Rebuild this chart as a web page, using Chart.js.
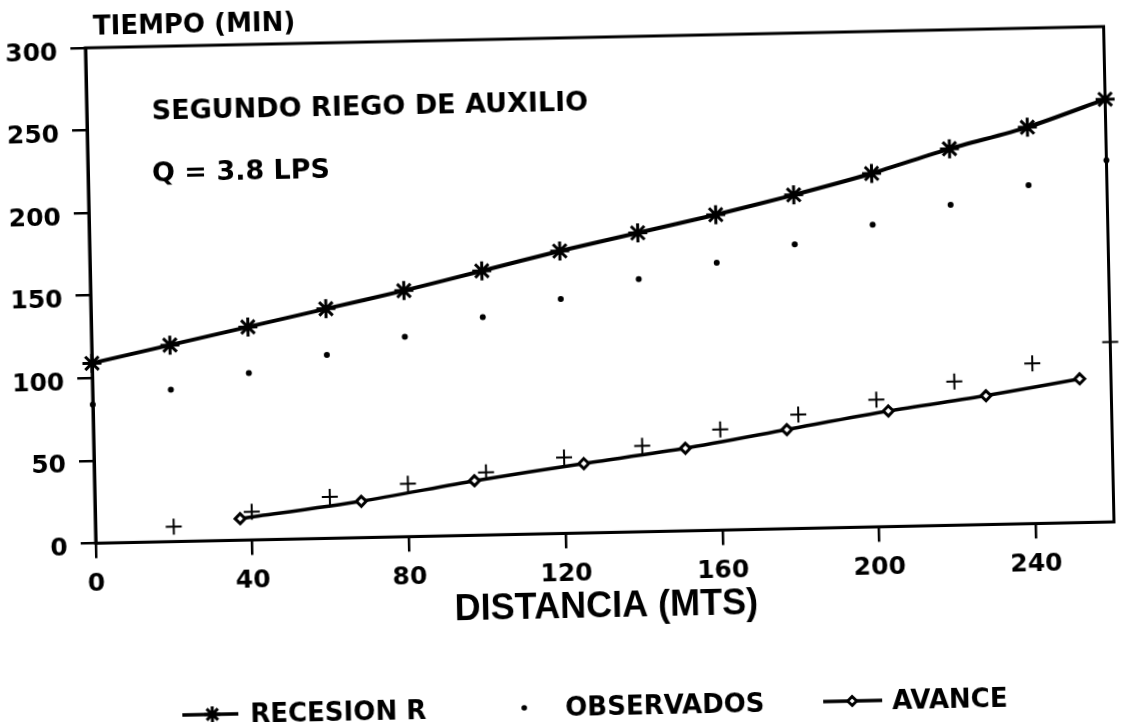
<!DOCTYPE html>
<html>
<head>
<meta charset="utf-8">
<script src="https://cdn.jsdelivr.net/npm/chart.js@4.4.1/dist/chart.umd.min.js"></script>
<style>
  html, body { margin: 0; padding: 0; background: #fff; overflow: hidden; }
  /* la hoja original esta escaneada algo torcida */
  #wrap { width: 1123px; height: 722px; transform: rotate(-1.2deg); transform-origin: 50% 50%; }
</style>
</head>
<body>
<div id="wrap"><canvas id="grafica" width="1123" height="722"></canvas></div>
<script>
// datos
const recesionX = [0, 20, 40, 60, 80, 100, 120, 140, 160, 180, 200, 220, 240, 260];
const recesionY = [109, 119, 129, 139, 149, 160, 171, 181, 191, 202, 214, 228, 240, 256];

const observadosX = [0, 20, 40, 60, 80, 100, 120, 140, 160, 180, 200, 220, 240, 260];
const observadosY = [84, 92, 101, 111, 121, 132, 142, 153, 162, 172, 183, 194, 205, 219];

const avanceObsX = [20, 40, 60, 80, 100, 120, 140, 160, 180, 200, 220, 240, 260];
const avanceObsY = [9, 17, 25, 32, 38, 46, 52, 61, 69, 77, 87, 97, 109];

const avanceX = [37, 68, 97, 125, 151, 177, 203, 228, 252];
const avanceY = [13, 22, 33, 42, 50, 60, 70, 78, 87];

const ticksX = [0, 40, 80, 120, 160, 200, 240];

const puntos = (xs, ys) => xs.map((x, i) => ({ x: x, y: ys[i] }));

const negro = '#000';
const fuente = 'DejaVu Sans';

// marco completo, textos y leyenda
const extras = {
  id: 'extras',
  beforeDatasetsDraw(chart) {
    const { ctx, chartArea: a } = chart;
    ctx.save();
    ctx.strokeStyle = negro;
    ctx.lineWidth = 3;
    ctx.strokeRect(a.left, a.top, a.right - a.left, a.bottom - a.top);
    ctx.restore();
  },
  afterDraw(chart) {
    const ctx = chart.ctx;
    ctx.save();
    ctx.fillStyle = negro;
    ctx.textBaseline = 'alphabetic';
    ctx.textAlign = 'left';
    ctx.font = 'bold 26px "' + fuente + '"';
    ctx.fillText('TIEMPO (MIN)', 100, 25);
    ctx.font = 'bold 27px "' + fuente + '"';
    ctx.fillText('SEGUNDO RIEGO DE AUXILIO', 157, 111);
    ctx.fillText('Q = 3.8 LPS', 156, 173);

    // leyenda
    const ly = 707;
    const items = [
      { ds: 0, x0: 175, x1: 231, px: 205, tx: 243, linea: true, r: 8 },
      { ds: 1, x0: 0, x1: 0, px: 517, tx: 558, linea: false, r: 2.8 },
      { ds: 3, x0: 816, x1: 875, px: 845, tx: 885, linea: true, r: 4.5 }
    ];
    ctx.font = 'bold 26px "' + fuente + '"';
    ctx.textBaseline = 'middle';
    items.forEach(it => {
      const ds = chart.data.datasets[it.ds];
      ctx.strokeStyle = negro;
      if (it.linea) {
        ctx.lineWidth = 3.5;
        ctx.beginPath();
        ctx.moveTo(it.x0, ly);
        ctx.lineTo(it.x1, ly);
        ctx.stroke();
      }
      ctx.fillStyle = ds.pointBackgroundColor;
      ctx.lineWidth = ds.pointBorderWidth;
      Chart.helpers.drawPoint(ctx, {
        pointStyle: ds.pointStyle, radius: it.r, rotation: 0, borderWidth: ds.pointBorderWidth
      }, it.px, ly);
      ctx.fillStyle = negro;
      ctx.fillText(ds.label, it.tx, ly + 2);
    });
    ctx.restore();
  }
};

new Chart(document.getElementById('grafica'), {
  type: 'scatter',
  data: {
    datasets: [
      {
        label: 'RECESION R',
        data: puntos(recesionX, recesionY),
        showLine: true,
        borderColor: negro,
        borderWidth: 4,
        tension: 0.25,
        pointStyle: 'star',
        pointRadius: 9.5,
        pointBorderWidth: 3,
        pointBorderColor: negro,
        pointBackgroundColor: negro,
        clip: false
      },
      {
        label: 'OBSERVADOS',
        data: puntos(observadosX, observadosY),
        showLine: false,
        pointStyle: 'circle',
        pointRadius: 3,
        pointBorderWidth: 0,
        pointBackgroundColor: negro,
        pointBorderColor: negro,
        clip: false
      },
      {
        label: 'AVANCE OBSERVADO',
        data: puntos(avanceObsX, avanceObsY),
        showLine: false,
        pointStyle: 'cross',
        pointRadius: 8,
        pointBorderWidth: 2,
        pointBorderColor: negro,
        pointBackgroundColor: negro,
        clip: false
      },
      {
        label: 'AVANCE',
        data: puntos(avanceX, avanceY),
        showLine: true,
        borderColor: negro,
        borderWidth: 3.5,
        tension: 0.25,
        pointStyle: 'rectRot',
        pointRadius: 5,
        pointBorderWidth: 3,
        pointBorderColor: negro,
        pointBackgroundColor: '#fff',
        clip: false
      }
    ]
  },
  options: {
    responsive: false,
    animation: false,
    devicePixelRatio: 1,
    layout: { padding: { top: 38, right: 11, bottom: 92, left: 0 } },
    plugins: {
      legend: { display: false },
      tooltip: { enabled: false }
    },
    scales: {
      x: {
        type: 'linear',
        min: 0,
        max: 260,
        afterBuildTicks: (s) => { s.ticks = ticksX.map(v => ({ value: v })); },
        border: { display: true, color: negro, width: 3 },
        grid: { display: true, drawOnChartArea: false, tickLength: 15, color: negro, lineWidth: 2.5 },
        ticks: {
          color: negro,
          padding: 11,
          maxRotation: 0,
          autoSkip: false,
          font: { family: fuente, size: 25, weight: 'bold', lineHeight: 1.2 }
        },
        title: {
          display: true,
          text: 'DISTANCIA (MTS)',
          color: negro,
          padding: { top: -13.6, bottom: 0 },
          font: { family: 'Liberation Sans', size: 36, weight: 'bold', lineHeight: 1.2 }
        }
      },
      y: {
        min: 0,
        max: 300,
        afterFit: (s) => { s.width = 92; },
        border: { display: true, color: negro, width: 3 },
        grid: { display: true, drawOnChartArea: false, tickLength: 15, color: negro, lineWidth: 2.5 },
        ticks: {
          stepSize: 50,
          color: negro,
          padding: 13,
          labelOffset: 5,
          font: { family: fuente, size: 25, weight: 'bold' }
        }
      }
    }
  },
  plugins: [extras]
});
</script>
</body>
</html>
